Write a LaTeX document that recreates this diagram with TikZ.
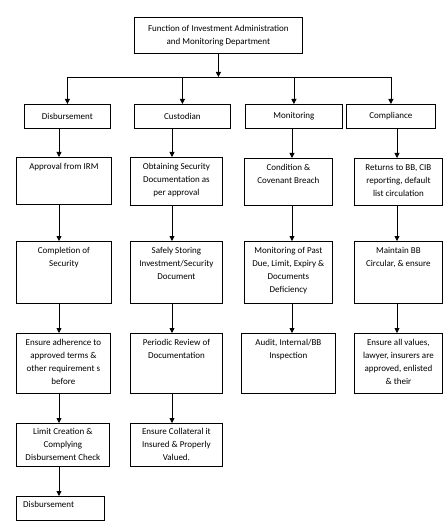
\documentclass[tikz,border=0pt]{standalone}
\usepackage{fontspec}
\setmainfont{Carlito}
\usetikzlibrary{arrows.meta}
\tikzset{
  cell/.style={draw, line width=0.8pt, anchor=north west, inner sep=0pt, align=center, font=\fontsize{9}{13}\selectfont},
  txt/.style={anchor=north, inner sep=0pt, align=center, font=\fontsize{9}{13}\selectfont},
  arr/.style={line width=0.8pt, -{Triangle[length=5pt,width=5pt]}},
}

\begin{document}
\begin{tikzpicture}[x=1pt, y=-1pt]
	\useasboundingbox (0,0) rectangle (446,529);

	% head box
	\node[cell, minimum width=168, minimum height=36] (iamd) at (134,17) {Function of Investment Administration\\and Monitoring Department};

	% departments
	\node[cell, minimum width=86, minimum height=24] (disb) at (24,104) {Disbursement};
	\node[cell, minimum width=96, minimum height=24] (cust) at (134,104) {Custodian};
	\node[cell, minimum width=97, minimum height=24] (moni) at (245,104) {Monitoring};
	\node[cell, minimum width=89, minimum height=24] (comp) at (346,104) {Compliance};

	\coordinate (bar) at (0,77);
	\draw[arr] (iamd.south) -- (iamd.south |- bar);
	\draw[line width=0.8pt] (bar -| disb.north) -- (bar -| comp.north);
	\foreach \n in {disb,cust,moni,comp}{
		\draw[arr] (bar -| \n.north) -- (\n.north);
	}

	% disbursement column
	\node[cell, minimum width=95, minimum height=47] (disb1) at (16,157) {};
	\node[txt] (disb1t) at ([yshift=-6]disb1.north) {Approval from IRM};
	\node[cell, minimum width=95, minimum height=62] (disb2) at (16,241) {};
	\node[txt] (disb2t) at ([yshift=-6]disb2.north) {Completion of\\Security};
	\node[cell, minimum width=94, minimum height=60] (disb3) at (16,333) {};
	\node[txt] (disb3t) at ([yshift=-6]disb3.north) {Ensure adherence to\\approved terms \&\\other requirement s\\before};
	\node[cell, minimum width=93, minimum height=43] (disb4) at (16,423) {};
	\node[txt] (disb4t) at ([yshift=-5]disb4.north) {Limit Creation \&\\Complying\\Disbursement Check};
	\node[cell, minimum width=88, minimum height=24] (disb5) at (16,496) {};
	\node[txt, anchor=north west] (disb5t) at ([xshift=7, yshift=-5]disb5.north west) {Disbursement};

	% custodian column
	\node[cell, minimum width=92, minimum height=48] (cust1) at (130,157) {};
	\node[txt] (cust1t) at ([yshift=-6]cust1.north) {Obtaining Security\\Documentation as\\per approval};
	\node[cell, minimum width=92, minimum height=62] (cust2) at (130,241) {};
	\node[txt] (cust2t) at ([yshift=-6]cust2.north) {Safely Storing\\Investment/Security\\Document};
	\node[cell, minimum width=92, minimum height=60] (cust3) at (130,333) {};
	\node[txt] (cust3t) at ([yshift=-6]cust3.north) {Periodic Review of\\Documentation};
	\node[cell, minimum width=92, minimum height=43] (cust4) at (130,423) {};
	\node[txt] (cust4t) at ([yshift=-5]cust4.north) {Ensure Collateral it\\Insured \& Properly\\Valued.};

	% monitoring column
	\node[cell, minimum width=88, minimum height=47] (moni1) at (244,158) {};
	\node[txt] (moni1t) at ([yshift=-6]moni1.north) {Condition \&\\Covenant Breach};
	\node[cell, minimum width=88, minimum height=62] (moni2) at (244,241) {};
	\node[txt] (moni2t) at ([yshift=-6]moni2.north) {Monitoring of Past\\Due, Limit, Expiry \&\\Documents\\Deficiency};
	\node[cell, minimum width=94, minimum height=60] (moni3) at (241,333) {};
	\node[txt] (moni3t) at ([yshift=-6]moni3.north) {Audit, Internal/BB\\Inspection};

	% compliance column
	\node[cell, minimum width=88, minimum height=47] (comp1) at (354,158) {};
	\node[txt] (comp1t) at ([yshift=-6]comp1.north) {Returns to BB, CIB\\reporting, default\\list circulation};
	\node[cell, minimum width=88, minimum height=62] (comp2) at (354,241) {};
	\node[txt] (comp2t) at ([yshift=-6]comp2.north) {Maintain BB\\Circular, \& ensure};
	\node[cell, minimum width=88, minimum height=60] (comp3) at (354,333) {};
	\node[txt] (comp3t) at ([yshift=-6]comp3.north) {Ensure all values,\\lawyer, insurers are\\approved, enlisted\\\& their};

	% column lines
	\coordinate (ldisb) at (59,0);
	\coordinate (lcust) at (172,0);
	\coordinate (lmoni) at (292,0);
	\coordinate (lcomp) at (397,0);

	\foreach \a/\b/\c in {disb/disb1/ldisb, disb1/disb2/ldisb, disb2/disb3/ldisb, disb3/disb4/ldisb, disb4/disb5/ldisb,
		cust/cust1/lcust, cust1/cust2/lcust, cust2/cust3/lcust, cust3/cust4/lcust,
		moni/moni1/lmoni, moni1/moni2/lmoni, moni2/moni3/lmoni,
		comp/comp1/lcomp, comp1/comp2/lcomp, comp2/comp3/lcomp}{
		\draw[arr] (\a.south -| \c) -- (\b.north -| \c);
	}
\end{tikzpicture}
\end{document}
